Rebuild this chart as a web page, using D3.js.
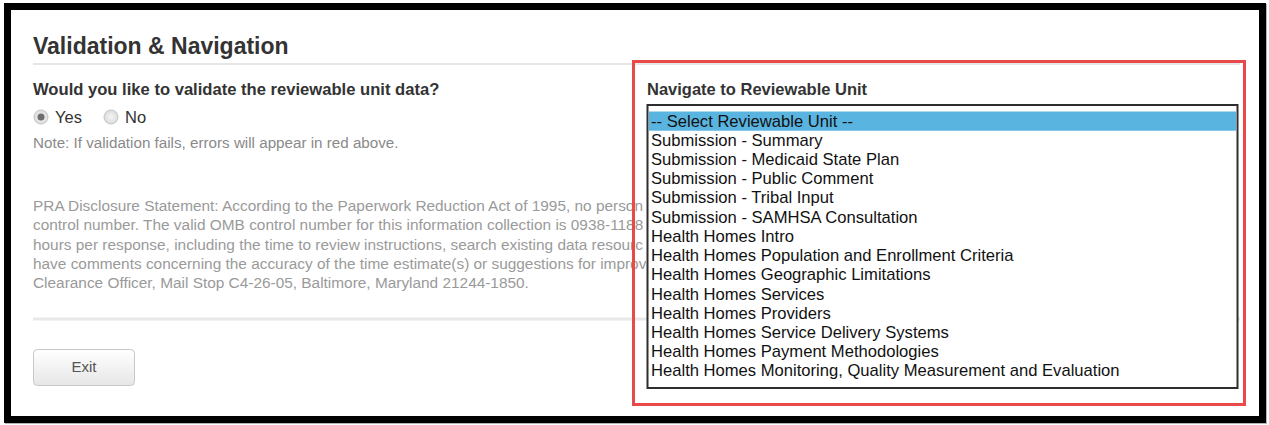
<!DOCTYPE html>
<html>
<head>
<meta charset="utf-8">
<script src="https://cdn.jsdelivr.net/npm/d3@7"></script>
<style>
  html, body { margin: 0; padding: 0; background: #fff; }
  svg { display: block; font-family: "Liberation Sans", Arial, sans-serif; }
</style>
</head>
<body>
<div id="chart"></div>
<script>
/* ============================
   DATA
============================ */
const title = "Validation & Navigation";
const question = "Would you like to validate the reviewable unit data?";
const radioOptions = ["Yes", "No"];
const selectedRadio = "Yes";
const note = "Note: If validation fails, errors will appear in red above.";

// PRA disclosure, line by line (the rest is hidden by the select box)
const praLines = [
  "PRA Disclosure Statement: According to the Paperwork Reduction Act of 1995, no person",
  "control number. The valid OMB control number for this information collection is 0938-1188",
  "hours per response, including the time to review instructions, search existing data resourc",
  "have comments concerning the accuracy of the time estimate(s) or suggestions for improv",
  "Clearance Officer, Mail Stop C4-26-05, Baltimore, Maryland 21244-1850."
];

const navLabel = "Navigate to Reviewable Unit";
const units = [
  "-- Select Reviewable Unit --",
  "Submission - Summary",
  "Submission - Medicaid State Plan",
  "Submission - Public Comment",
  "Submission - Tribal Input",
  "Submission - SAMHSA Consultation",
  "Health Homes Intro",
  "Health Homes Population and Enrollment Criteria",
  "Health Homes Geographic Limitations",
  "Health Homes Services",
  "Health Homes Providers",
  "Health Homes Service Delivery Systems",
  "Health Homes Payment Methodologies",
  "Health Homes Monitoring, Quality Measurement and Evaluation"
];
const selectedUnit = units[0];
const buttonLabel = "Exit";

/* ============================
   SETUP
============================ */
const W = 1269, H = 425;

const svg = d3.select("#chart").append("svg")
  .attr("width", W)
  .attr("height", H);

const defs = svg.append("defs");

const btnGrad = defs.append("linearGradient")
  .attr("id", "btnGrad").attr("x1", 0).attr("y1", 0).attr("x2", 0).attr("y2", 1);
btnGrad.append("stop").attr("offset", "0%").attr("stop-color", "#ffffff");
btnGrad.append("stop").attr("offset", "100%").attr("stop-color", "#e6e6e6");

const radioGrad = defs.append("radialGradient").attr("id", "radioGrad");
radioGrad.append("stop").attr("offset", "0%").attr("stop-color", "#f4f4f4");
radioGrad.append("stop").attr("offset", "100%").attr("stop-color", "#dcdcdc");

defs.append("clipPath").attr("id", "praClip")
  .append("rect").attr("x", 0).attr("y", 180).attr("width", 646).attr("height", 130);

/* ============================
   FRAME
============================ */
svg.append("rect")
  .attr("x", 8.5).attr("y", 7.5)
  .attr("width", 1255).attr("height", 413)
  .attr("fill", "none").attr("stroke", "#b5b5b5").attr("stroke-width", 7);

svg.append("rect")
  .attr("x", 7.5).attr("y", 6.5)
  .attr("width", 1255).attr("height", 413)
  .attr("fill", "#fff").attr("stroke", "#000").attr("stroke-width", 7);

/* ============================
   LEFT SIDE
============================ */
svg.append("text")
  .attr("x", 33).attr("y", 54)
  .attr("font-size", 23).attr("font-weight", "bold").attr("fill", "#333")
  .text(title);

// separators
svg.append("line")
  .attr("x1", 33).attr("x2", 1240).attr("y1", 64).attr("y2", 64)
  .attr("stroke", "#e6e6e6").attr("stroke-width", 2);

svg.append("line")
  .attr("x1", 33).attr("x2", 1240).attr("y1", 319).attr("y2", 319)
  .attr("stroke", "#e8e8e8").attr("stroke-width", 3);

svg.append("text")
  .attr("x", 33).attr("y", 95)
  .attr("font-size", 16.6).attr("font-weight", "bold").attr("fill", "#333")
  .text(question);

// radio buttons
const radioX = d3.scalePoint().domain(radioOptions).range([41, 111]);

const radios = svg.append("g").selectAll("g")
  .data(radioOptions)
  .enter().append("g")
  .attr("transform", d => `translate(${radioX(d)},117)`);

radios.append("circle")
  .attr("r", 7)
  .attr("fill", "url(#radioGrad)")
  .attr("stroke", "#c4c4c4").attr("stroke-width", 1);

radios.filter(d => d === selectedRadio).append("circle")
  .attr("r", 3.5).attr("fill", "#6e6e6e");

radios.append("text")
  .attr("x", 14).attr("y", 6)
  .attr("font-size", 16.5).attr("fill", "#333")
  .text(d => d);

svg.append("text")
  .attr("x", 33).attr("y", 148)
  .attr("font-size", 15.2).attr("fill", "#8a8a8a")
  .text(note);

// PRA paragraph
const praY = d3.scaleBand().domain(d3.range(praLines.length)).range([196, 292]);

svg.append("g").attr("clip-path", "url(#praClip)")
  .selectAll("text")
  .data(praLines)
  .enter().append("text")
  .attr("x", 33)
  .attr("y", (d, i) => praY(i) + praY.bandwidth() / 2 + 5.5)
  .attr("font-size", 15.4).attr("fill", "#9a9a9a")
  .text(d => d);

// Exit button
const btn = svg.append("g");
btn.append("rect")
  .attr("x", 33.5).attr("y", 349.5)
  .attr("width", 101).attr("height", 36)
  .attr("rx", 4)
  .attr("fill", "url(#btnGrad)")
  .attr("stroke", "#c8c8c8");
btn.append("text")
  .attr("x", 84).attr("y", 372)
  .attr("text-anchor", "middle")
  .attr("font-size", 15).attr("fill", "#555")
  .text(buttonLabel);

/* ============================
   RIGHT SIDE: NAVIGATION
============================ */
svg.append("text")
  .attr("x", 647).attr("y", 95)
  .attr("font-size", 16.5).attr("font-weight", "bold").attr("fill", "#333")
  .text(navLabel);

// select box
svg.append("rect")
  .attr("x", 647.5).attr("y", 105)
  .attr("width", 590).attr("height", 283)
  .attr("fill", "#fff").attr("stroke", "#2e2e2e").attr("stroke-width", 2);

const rowY = d3.scaleBand().domain(units).range([111.5, 380.5]);

const rows = svg.append("g").selectAll("g")
  .data(units)
  .enter().append("g")
  .attr("transform", d => `translate(0,${rowY(d)})`);

rows.filter(d => d === selectedUnit).append("rect")
  .attr("x", 649).attr("y", 0)
  .attr("width", 587).attr("height", rowY.bandwidth())
  .attr("fill", "#5ab4e0");

rows.append("text")
  .attr("x", 651)
  .attr("y", rowY.bandwidth() / 2 + 5.5)
  .attr("font-size", 16.6).attr("fill", "#111")
  .text(d => d);

// red highlight box
svg.append("rect")
  .attr("x", 633.5).attr("y", 61.5)
  .attr("width", 611).attr("height", 343)
  .attr("fill", "none").attr("stroke", "#e84a4a").attr("stroke-width", 3);
</script>
</body>
</html>
